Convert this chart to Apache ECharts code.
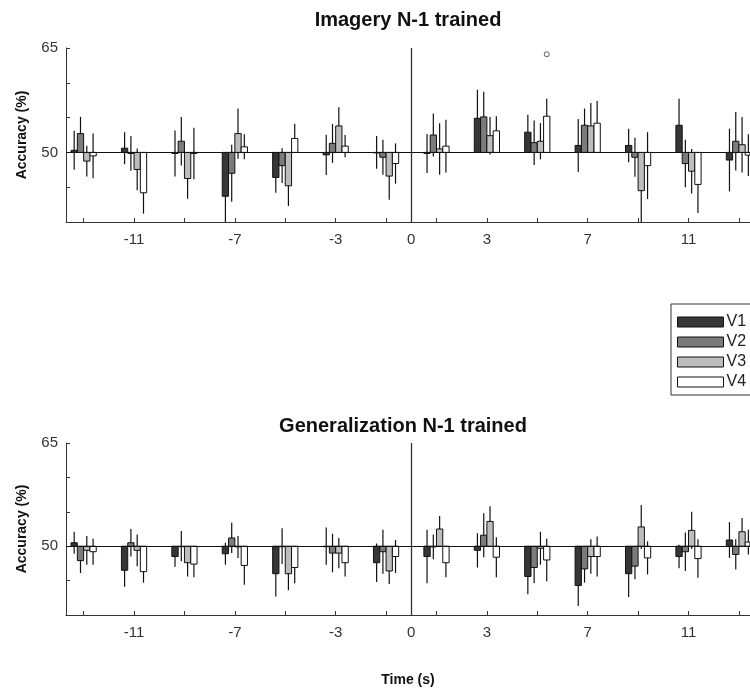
<!DOCTYPE html>
<html>
<head>
<meta charset="utf-8">
<script src="https://cdn.jsdelivr.net/npm/echarts@6/dist/echarts.min.js"></script>
<style>
  html, body { margin: 0; padding: 0; background: #fff; }
  #chart { width: 750px; height: 693px; }
</style>
</head>
<body>
<div id="chart"></div>
<script>
// time points (s), bar groups centered on them
const times = [-13, -11, -9, -7, -5, -3, -1, 1, 3, 5, 7, 9, 11, 13];

// Imagery N-1 trained: mean accuracy and error
const imgV1 = [50.3, 50.6, 49.85, 43.7, 46.4, 49.65, 50.0, 49.85, 54.9, 52.9, 51.0, 51.0, 53.9, 48.9];
const imgV2 = [52.7, 49.85, 51.6, 47.0, 48.1, 51.3, 49.3, 52.5, 55.1, 51.4, 53.9, 49.3, 48.4, 51.6];
const imgV3 = [48.75, 47.55, 46.25, 52.7, 45.2, 53.8, 46.6, 50.5, 52.4, 51.6, 53.8, 44.5, 47.3, 51.1];
const imgV4 = [49.5, 44.2, 49.85, 50.8, 52.0, 50.9, 48.4, 50.9, 53.1, 55.2, 54.2, 48.1, 45.4, 49.6];
const imgE1 = [2.8, 2.3, 3.3, 3.7, 2.2, 2.9, 2.35, 2.8, 4.1, 2.5, 3.8, 2.4, 3.8, 4.5];
const imgE2 = [2.4, 2.5, 3.5, 4.1, 2.5, 2.8, 2.5, 3.1, 3.6, 3.2, 2.4, 2.8, 3.4, 4.2];
const imgE3 = [2.2, 3.0, 2.9, 3.6, 2.9, 2.7, 3.4, 3.7, 2.7, 2.6, 3.3, 5.4, 3.2, 4.0];
const imgE4 = [3.2, 3.0, 3.7, 1.8, 2.1, 1.6, 2.9, 3.8, 2.1, 2.5, 3.2, 4.8, 4.1, 3.0];

// Generalization N-1 trained
const genV1 = [50.5, 46.5, 48.5, 48.9, 46.0, 50.0, 47.6, 48.5, 49.4, 45.6, 44.3, 46.0, 48.5, 50.9];
const genV2 = [47.9, 50.5, 50.0, 51.2, 50.0, 49.0, 49.2, 49.9, 51.6, 46.9, 46.7, 47.1, 49.2, 48.8];
const genV3 = [49.4, 49.4, 47.6, 49.9, 46.0, 49.0, 46.4, 52.5, 53.6, 49.7, 48.5, 52.8, 52.3, 52.1];
const genV4 = [49.2, 46.3, 47.4, 47.2, 46.9, 47.6, 48.5, 47.6, 48.4, 48.0, 48.5, 48.3, 48.2, 50.6];
const genE1 = [1.6, 2.4, 1.5, 1.6, 3.3, 2.7, 2.8, 3.9, 2.5, 2.6, 3.0, 3.4, 1.7, 2.6];
const genE2 = [1.8, 2.0, 2.2, 2.2, 2.6, 2.8, 3.2, 1.8, 3.2, 2.3, 2.0, 1.9, 2.8, 2.2];
const genE3 = [2.1, 2.3, 2.0, 1.6, 2.4, 2.2, 1.9, 1.9, 2.2, 2.4, 2.5, 3.2, 2.7, 2.0];
const genE4 = [1.9, 1.6, 1.9, 2.8, 2.3, 2.0, 2.4, 2.1, 2.9, 3.1, 2.9, 2.4, 2.8, 1.8];

// significance marker (imagery panel)
const sigPoint = [5.375, 64.1];

// axis ticks and labels
const xTicks = [-13, -11, -9, -7, -5, -3, -1, 1, 3, 5, 7, 9, 11, 13];
const xLabels = [-11, -7, -3, 0, 3, 7, 11];
const yTicks = [40, 45, 50, 55, 60, 65];
const yLabels = [50, 65];

const seriesNames = ['V1', 'V2', 'V3', 'V4'];
const barColors = ['#363636', '#7b7b7b', '#bdbdbd', '#ffffff'];
const offsets = [-0.375, -0.125, 0.125, 0.375];
const barW = 0.25;
const FONT = 'Liberation Sans, Arial, sans-serif';

const chart = echarts.init(document.getElementById('chart'));

function makeRender(color) {
  return function (params, api) {
    const cs = params.coordSys;
    const x = api.value(0), v = api.value(1), e = api.value(2);
    const base = api.coord([x, 50]);
    const top = api.coord([x, v]);
    const hi = api.coord([x, v + e]);
    const lo = api.coord([x, v - e]);
    const w = api.size([barW, 0])[0];
    const y1 = Math.max(cs.y, Math.min(hi[1], lo[1]));
    const y2 = Math.min(cs.y + cs.height, Math.max(hi[1], lo[1]));
    const rect = echarts.graphic.clipRectByRect({
      x: base[0] - w / 2,
      y: Math.min(base[1], top[1]),
      width: w,
      height: Math.max(Math.abs(base[1] - top[1]), 0.5)
    }, { x: cs.x, y: cs.y, width: cs.width, height: cs.height });
    const children = [];
    if (top[0] <= cs.x + cs.width) {
      children.push({
        type: 'line',
        shape: { x1: top[0], y1: y1, x2: top[0], y2: y2 },
        style: { stroke: '#111', lineWidth: 1.2 }
      });
    }
    if (rect) {
      children.push({
        type: 'rect',
        shape: rect,
        style: { fill: color, stroke: '#111', lineWidth: 1 }
      });
    }
    return { type: 'group', children: children };
  };
}

function barSeries(panel, vals, errs) {
  const out = [];
  for (let k = 0; k < 4; k++) {
    out.push({
      type: 'custom',
      name: seriesNames[k],
      xAxisIndex: panel,
      yAxisIndex: panel,
      itemStyle: { color: barColors[k], borderColor: '#111', borderWidth: 1 },
      renderItem: makeRender(barColors[k]),
      encode: { x: 0, y: 1 },
      data: times.map((t, i) => [t + offsets[k], vals[k][i], errs[k][i]]),
      z: 3
    });
  }
  return out;
}

function refLines(panel) {
  return {
    type: 'line',
    xAxisIndex: panel,
    yAxisIndex: panel,
    data: [],
    silent: true,
    markLine: {
      silent: true,
      symbol: 'none',
      label: { show: false },
      animation: false,
      data: [
        { yAxis: 50, lineStyle: { color: '#111', width: 1, type: 'solid' } },
        { xAxis: 0, lineStyle: { color: '#333', width: 1.3, type: 'solid' } }
      ]
    },
    z: 2
  };
}

function xAxisCfg(panel, withName) {
  return {
    type: 'value',
    gridIndex: panel,
    min: -13.7,
    max: 13.44,
    splitLine: { show: false },
    axisLine: { show: true, onZero: false, lineStyle: { color: '#333', width: 1 } },
    axisTick: { show: true, inside: true, length: 4, customValues: xTicks, lineStyle: { color: '#333' } },
    axisLabel: { customValues: xLabels, color: '#333', fontSize: 15, fontFamily: FONT, margin: 10 },
    name: withName ? 'Time (s)' : '',
    nameLocation: 'middle',
    nameGap: 58,
    nameTextStyle: { color: '#111', fontSize: 14, fontWeight: 'bold', fontFamily: FONT }
  };
}

function yAxisCfg(panel) {
  return {
    type: 'value',
    gridIndex: panel,
    min: 40,
    max: 65,
    splitLine: { show: false },
    axisLine: { show: true, onZero: false, lineStyle: { color: '#333', width: 1 } },
    axisTick: { show: true, inside: true, length: 4, customValues: yTicks, lineStyle: { color: '#333' } },
    axisLabel: { customValues: yLabels, color: '#333', fontSize: 15, fontFamily: FONT, margin: 8 },
    name: 'Accuracy (%)',
    nameLocation: 'middle',
    nameGap: 37,
    nameTextStyle: { color: '#111', fontSize: 14, fontWeight: 'bold', fontFamily: FONT }
  };
}

const option = {
  animation: false,
  backgroundColor: '#fff',
  graphic: [
    {
      type: 'text', x: 408, y: 20,
      style: { text: 'Imagery N-1 trained', fill: '#111', font: 'bold 20px ' + FONT, textAlign: 'center', textVerticalAlign: 'middle' }
    },
    {
      type: 'text', x: 403, y: 426,
      style: { text: 'Generalization N-1 trained', fill: '#111', font: 'bold 20px ' + FONT, textAlign: 'center', textVerticalAlign: 'middle' }
    }
  ],
  legend: {
    orient: 'vertical',
    left: 671,
    top: 304,
    itemWidth: 46,
    itemHeight: 10,
    itemGap: 4,
    icon: 'rect',
    borderColor: '#333',
    borderWidth: 1,
    padding: [10, 12, 5, 6],
    selectedMode: false,
    textStyle: { color: '#222', fontSize: 16, lineHeight: 16, fontFamily: FONT, padding: [0, 0, 0, -2] },
    data: seriesNames.map((n, k) => ({ name: n, itemStyle: { color: barColors[k], borderColor: '#111', borderWidth: 1 } }))
  },
  grid: [
    { left: 66, right: 0, top: 48, height: 174 },
    { left: 66, right: 0, top: 443, height: 172 }
  ],
  xAxis: [xAxisCfg(0, false), xAxisCfg(1, true)],
  yAxis: [yAxisCfg(0), yAxisCfg(1)],
  series: [
    refLines(0),
    refLines(1),
    ...barSeries(0, [imgV1, imgV2, imgV3, imgV4], [imgE1, imgE2, imgE3, imgE4]),
    ...barSeries(1, [genV1, genV2, genV3, genV4], [genE1, genE2, genE3, genE4]),
    {
      type: 'scatter',
      xAxisIndex: 0,
      yAxisIndex: 0,
      symbol: 'circle',
      symbolSize: 5,
      itemStyle: { color: '#fff', borderColor: '#333', borderWidth: 1 },
      data: [sigPoint],
      z: 4
    }
  ]
};

chart.setOption(option);
</script>
</body>
</html>
